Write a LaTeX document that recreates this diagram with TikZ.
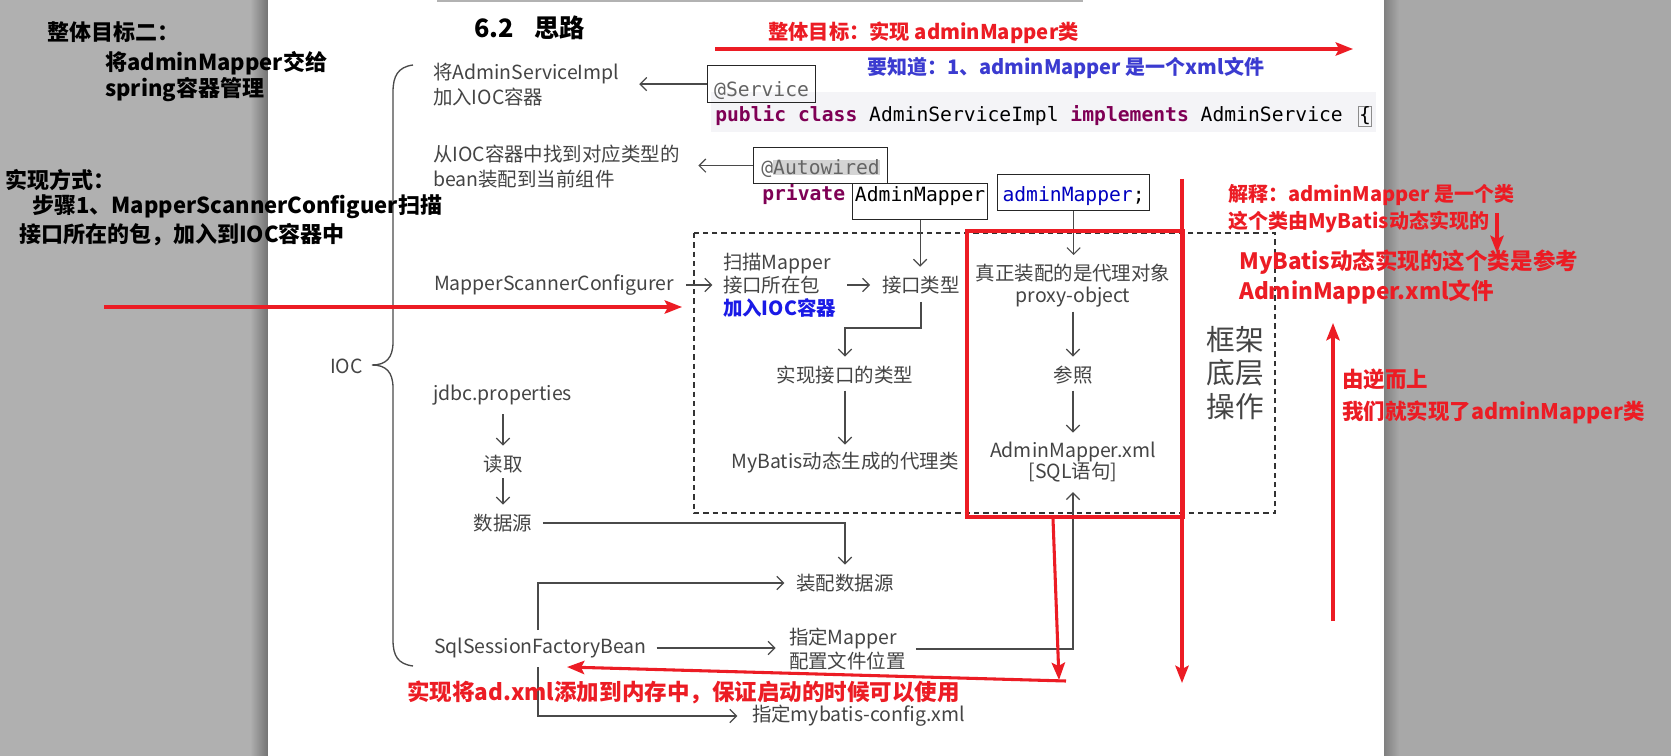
\documentclass[tikz,border=0pt]{standalone}
\usepackage{fontspec}
\setmainfont{Noto Sans CJK SC}
\newfontfamily\codefont{DejaVu Sans Mono}
\usetikzlibrary{arrows.meta,calc}
\definecolor{redA}{HTML}{EC1C24}
\definecolor{blueA}{HTML}{3B3BD0}
\definecolor{blueB}{HTML}{1A1AE6}
\definecolor{txt}{HTML}{444444}
\definecolor{arr}{HTML}{4A4A4A}
\definecolor{kw}{HTML}{7F0055}
\definecolor{fld}{HTML}{0000C0}
\definecolor{anno}{HTML}{646464}
\definecolor{bgL}{HTML}{B0B0B0}
\definecolor{bgR}{HTML}{A8A8A8}
\definecolor{band}{HTML}{F4F4F7}
\newcommand\fsP{\fontsize{14.6pt}{18.4pt}\selectfont}
\begin{document}
\begin{tikzpicture}[x=0.75pt,y=-0.75pt,
  pg/.style={font=\fsP, text=txt, inner sep=0pt, outer sep=0pt},
  pgw/.style={pg, anchor=west, align=left},
  con/.style={draw=arr, line width=0.9pt, -{Straight Barb[length=5pt,width=10pt,line width=0.9pt]}},
  redln/.style={draw=redA, line width=2.3pt},
  redar/.style={redln, -{Stealth[length=13pt,width=10pt,inset=2.5pt]}},
  rnote/.style={font=\bfseries\fontsize{15.2pt}{20.25pt}\selectfont, text=redA, inner sep=0pt, anchor=west, align=left},
  lnote/.style={font=\bfseries\fontsize{16.5pt}{20pt}\selectfont, text=black, inner sep=0pt, anchor=west},
  codetxt/.style={font=\codefont\fontsize{14.75pt}{17pt}\selectfont, inner sep=0pt},
  codebox/.style={codetxt, draw=black!85, line width=0.9pt, inner xsep=0pt, inner ysep=0pt, anchor=north west},
]
\useasboundingbox (0,0) rectangle (1671,756);
% backgrounds
\fill[bgL] (0,0) rectangle (268,756);
\fill[bgR] (1384,0) rectangle (1671,756);
\shade[left color=bgL, right color=black!55] (250,0) rectangle (268,756);
\shade[left color=black!50, right color=bgR] (1384,0) rectangle (1399,756);
\fill[white] (268,0) rectangle (1384,756);
\draw[black!30, line width=1pt] (437,1) -- (1083,1);
\fill[band] (711,92) rectangle (1376,132);

% title
\node[pg, anchor=west, text=black, font=\bfseries\fontsize{19pt}{22pt}\selectfont] (title) at (474,28) {6.2\hspace{0.8em}思路};

% brace
\draw[arr, line width=1pt] (413,65) .. controls (398,67) and (393,76) .. (393,92) -- (393,342)
  .. controls (393,358) and (386,365) .. (372,365) .. controls (386,365) and (393,372) .. (393,388)
  -- (393,640) .. controls (393,656) and (398,664) .. (413,666);

% page texts
\node[pgw] (t1) at (433,84.5) {将AdminServiceImpl\\加入IOC容器};
\node[pgw] (t2) at (433,166.5) {从IOC容器中找到对应类型的\\bean装配到当前组件};
\node[pgw] (msc) at (434,285) {MapperScannerConfigurer};
\node[pgw] (ioc) at (330,366) {IOC};
\node[pgw] (jdbc) at (433,395) {jdbc.properties};
\node[pg] (read) at (503,464) {读取};
\node[pg] (ds) at (503,523) {数据源};
\node[pgw] (ssfb) at (434,648) {SqlSessionFactoryBean};
\node[pgw, font=\fontsize{14.6pt}{17.3pt}\selectfont] (scan) at (723,285) {扫描Mapper\\接口所在包\\{\color{blueB}\bfseries 加入IOC容器}};
\node[pgw] (itype) at (882,285) {接口类型};
\node[pg] (impl) at (845,375) {实现接口的类型};
\node[pg] (mbgen) at (845,463) {MyBatis动态生成的代理类};
\node[pg, align=center, font=\fontsize{14.6pt}{16.5pt}\selectfont] (real) at (1073,286) {真正装配的是代理对象\\proxy-object};
\node[pg] (ref) at (1073,375) {参照};
\node[pg, align=center, font=\fontsize{14.6pt}{15.8pt}\selectfont] (xml) at (1073,462) {AdminMapper.xml\\{[}SQL语句{]}};
\node[pg, align=left, font=\fontsize{21.5pt}{25pt}\selectfont] (frame) at (1235,373) {框架\\底层\\操作};
\node[pg] (asm) at (845,583) {装配数据源};
\node[pgw, font=\fontsize{14.6pt}{18pt}\selectfont] (mloc) at (789,649) {指定Mapper\\配置文件位置};
\node[pgw] (cfg) at (752,716) {指定mybatis-config.xml};

% dashed frame
\draw[black!80, line width=0.9pt, dash pattern=on 4pt off 3pt] (694,233) rectangle (1275,513);

% code
\node[codebox, text=anno, minimum width=81pt, text height=23.25pt, text depth=4.5pt] (svc) at (707,65) {@Service};
\node[codetxt, anchor=base west] (cl) at (715,122) {\textcolor{kw}{\bfseries public class} AdminServiceImpl \textcolor{kw}{\bfseries implements} AdminService};
\node[codetxt, anchor=base west, draw=black!45, line width=0.5pt, inner sep=0.6pt] (lb) at (1358,122) {\{};
\node[codebox, text=anno, minimum width=100.5pt, text height=20.25pt, text depth=6.75pt] (aw) at (753,147) {@{\setlength{\fboxsep}{0pt}\colorbox{black!17}{Autowired}}};
\node[codetxt, anchor=base west, text=kw] (pv) at (762,201) {\bfseries private};
\node[codebox, minimum width=101.25pt, text height=13.5pt, text depth=13.5pt] (am) at (852,183) {AdminMapper};
\node[codebox, minimum width=114pt, text height=20.25pt, text depth=6.75pt] (fm) at (997,174) {\textcolor{fld}{adminMapper};};

% connectors (gray)
\draw[con, shorten >=15pt] (svc.west) -- (svc.west -| t1.east);
\draw[con, shorten >=14pt] (aw.west) -- (aw.west -| t2.east);
\draw[con, shorten >=7pt] (am.south) -- (am.south |- itype.north);
\draw[con, shorten >=7pt] (fm.south) -- (fm.south |- real.north);
\draw[con, shorten <=9pt, shorten >=8pt] (msc.east) -- (msc.east -| scan.west);
\draw[con] ([xshift=-26pt]itype.west) -- ([xshift=-9pt]itype.west);
\coordinate (e1) at (845,328);
\draw[con, shorten <=6pt, shorten >=7pt] (itype.south) |- (e1) -- (impl.north);
\draw[con, shorten <=5pt, shorten >=6pt] (impl.south) -- (mbgen.north);
\draw[con, shorten <=3pt, shorten >=7pt] (real.south) -- (ref.north);
\draw[con, shorten <=5pt, shorten >=7pt] (ref.south) -- (xml.north);
\draw[con, shorten <=7pt, shorten >=7pt] (read.north |- jdbc.south) -- (read.north);
\draw[con, shorten <=4pt, shorten >=7pt] (read.south) -- (ds.north);
\draw[con, shorten <=8pt, shorten >=7pt] (ds.east) -| (asm.north);
\coordinate (s1) at (538,630);
\coordinate (s2) at (538,667);
\draw[con, shorten >=9pt] (s1) |- (asm.west);
\draw[con, shorten <=7.5pt, shorten >=10pt] (ssfb.east) -- (ssfb.east -| mloc.west);
\draw[con, shorten >=11pt] (s2) |- (cfg.west);
\draw[con, shorten <=7.5pt, shorten >=7.5pt] (mloc.east) -| (xml.south);

% red annotations
\node[rnote] (goal) at (768,33) {整体目标：实现 adminMapper类};
\coordinate (g1) at (715,49);
\coordinate (g2) at (1353,49);
\draw[redar] (g1) -- (g2);
\node[rnote, text=blueA, font=\bfseries\fontsize{15pt}{20pt}\selectfont] (know) at (867,68) {要知道：1、adminMapper 是一个xml文件};
\node[rnote, font=\bfseries\fontsize{15pt}{20.25pt}\selectfont] (expl) at (1228,208.5) {解释：adminMapper 是一个类\\这个类由MyBatis动态实现的};
\coordinate (d1) at (1497,213);
\coordinate (d2) at (1497,253);
\draw[redar] (d1) -- (d2);
\node[rnote, font=\bfseries\fontsize{16.9pt}{22.5pt}\selectfont] (refer) at (1239,277) {MyBatis动态实现的这个类是参考\\AdminMapper.xml文件};
\coordinate (u1) at (1333,621);
\coordinate (u2) at (1333,323);
\draw[redar] (u1) -- (u2);
\node[rnote, font=\bfseries\fontsize{16.1pt}{24pt}\selectfont] (upn) at (1342,396) {由逆而上\\我们就实现了adminMapper类};
\coordinate (r1) at (104,307);
\coordinate (r2) at (682,307);
\draw[redar] (r1) -- (r2);
\node[draw=redA, line width=2.3pt, inner sep=0pt, minimum width=162pt, minimum height=214.5pt] (rbox) at (1075,374) {};
\coordinate (v1) at (1182,179);
\coordinate (v2) at (1182,683);
\draw[redar] (v1) -- (v2);
\coordinate (rd) at (1059,680);
\draw[redar] ([xshift=-16.5pt]rbox.south) -- (rd);
\coordinate (rl1) at (1066,681);
\coordinate (rl2) at (567,667);
\draw[redar] (rl1) -- (rl2);
\node[rnote, font=\bfseries\fontsize{16.9pt}{20pt}\selectfont] (memo) at (407,692) {实现将ad.xml添加到内存中，保证启动的时候可以使用};

% left notes
\node[lnote] (L1) at (47,32) {整体目标二：};
\node[lnote] (L2) at (105,63) {将adminMapper交给};
\node[lnote] (L3) at (105,90) {spring容器管理};
\node[lnote] (L4) at (5,180) {实现方式：};
\node[lnote] (L5) at (32,207) {步骤1、MapperScannerConfiguer扫描};
\node[lnote] (L6) at (19,235) {接口所在的包，加入到IOC容器中};
\end{tikzpicture}
\end{document}
